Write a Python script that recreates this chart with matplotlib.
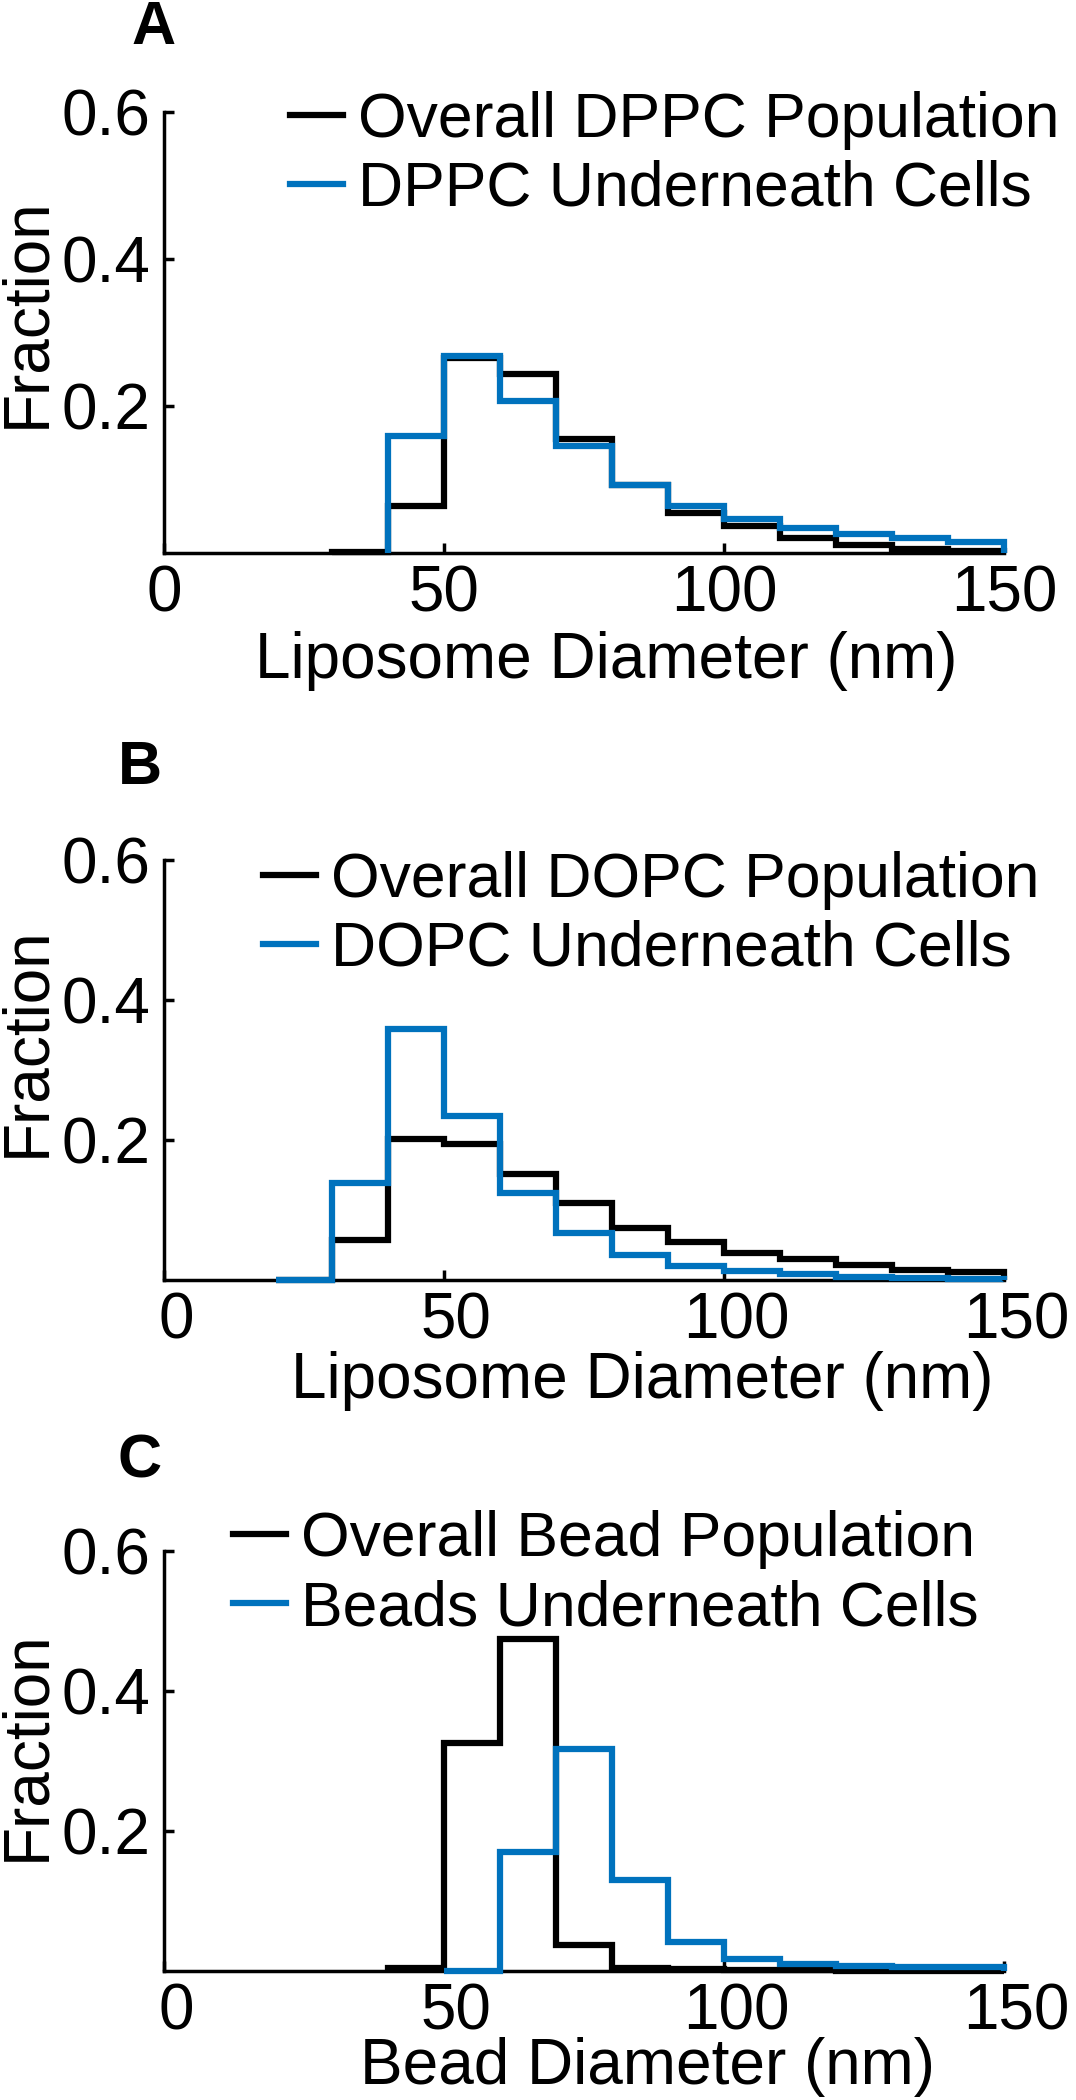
import numpy as np
import matplotlib
matplotlib.use("Agg")
import matplotlib.pyplot as plt
from matplotlib.transforms import ScaledTranslation

plt.rcParams['font.family'] = ['Liberation Sans', 'DejaVu Sans']

# bin edges (nm) and fractions
edges_a_all = np.arange(30, 151, 10)
frac_a_all = [0.001, 0.064, 0.265, 0.244, 0.155, 0.093, 0.055, 0.037, 0.021, 0.011, 0.006, 0.003]
edges_a_cell = np.arange(40, 151, 10)
frac_a_cell = [0.159, 0.268, 0.207, 0.146, 0.093, 0.064, 0.046, 0.034, 0.026, 0.020, 0.015]

edges_b = np.arange(20, 151, 10)
frac_b_all = [0.0, 0.057, 0.201, 0.194, 0.152, 0.110, 0.075, 0.055, 0.038, 0.030, 0.022, 0.015, 0.011]
frac_b_cell = [0.0, 0.138, 0.359, 0.234, 0.124, 0.067, 0.036, 0.020, 0.013, 0.008, 0.005, 0.003, 0.002]

edges_c_all = np.arange(40, 151, 10)
frac_c_all = [0.004, 0.326, 0.475, 0.037, 0.005, 0.003, 0.002, 0.001, 0.0, 0.0, 0.0]
edges_c_cell = np.arange(50, 151, 10)
frac_c_cell = [0.0, 0.170, 0.317, 0.130, 0.042, 0.017, 0.010, 0.007, 0.006, 0.006]

legend_all = ["Overall DPPC Population", "Overall DOPC Population", "Overall Bead Population"]
legend_cell = ["DPPC Underneath Cells", "DOPC Underneath Cells", "Beads Underneath Cells"]
xlabels = ["Liposome Diameter (nm)", "Liposome Diameter (nm)", "Bead Diameter (nm)"]
panel_labels = ["A", "B", "C"]

W, H = 1076, 2100
fig = plt.figure(figsize=(W / 100, H / 100), dpi=100)

blue = '#0072BD'
fs = 46
leg_fs = 45

# pixel boxes: left, right, top, bottom
boxes = [(164, 1004, 112, 553), (164, 1004, 860, 1280), (164, 1004, 1551, 1971)]
leg_pos = [(290, 117), (263, 877), (233, 1536)]
xlab_pos = [(0.526, -0.176), (0.569, -0.168), (0.576, -0.158)]
ylab_pos = [0.544, 0.567, 0.536]
plab_pos = [(131, 0), (118, 740), (118, 1433)]
xtick_shift = [0, 12, 12]

data = [
    (edges_a_all, frac_a_all, edges_a_cell, frac_a_cell),
    (edges_b, frac_b_all, edges_b, frac_b_cell),
    (edges_c_all, frac_c_all, edges_c_cell, frac_c_cell),
]

for i, (e1, f1, e2, f2) in enumerate(data):
    l, r, t, b = boxes[i]
    ax = fig.add_axes([l / W, 1 - b / H, (r - l) / W, (b - t) / H])
    h1 = ax.stairs(f1, e1, baseline=0, color='black', linewidth=4.5,
                   label=legend_all[i], clip_on=False, zorder=3)
    h2 = ax.stairs(f2, e2, baseline=0, color=blue, linewidth=4.5,
                   label=legend_cell[i], clip_on=False, zorder=4)
    ax.set_xlim(0, 150)
    ax.set_ylim(0, 0.6)
    ax.set_xticks([0, 50, 100, 150])
    ax.set_yticks([0.2, 0.4, 0.6])
    ax.set_yticklabels(['0.2', '0.4', '0.6'])
    for s in ['top', 'right']:
        ax.spines[s].set_visible(False)
    for s in ['left', 'bottom']:
        ax.spines[s].set_linewidth(2.5)
    ax.tick_params(direction='in', length=7, width=2.5, labelsize=fs)
    ax.tick_params(axis='y', pad=10)
    ax.tick_params(axis='x', pad=8)
    if xtick_shift[i]:
        off = ScaledTranslation(xtick_shift[i] / 100, 0, fig.dpi_scale_trans)
        for lab in ax.get_xticklabels():
            lab.set_transform(lab.get_transform() + off)
    ax.set_xlabel(xlabels[i], fontsize=fs)
    ax.xaxis.set_label_coords(*xlab_pos[i])
    ax.set_ylabel("Fraction", fontsize=fs)
    ax.yaxis.set_label_coords(-0.127, ylab_pos[i])

    lx, ly = leg_pos[i]
    ax.legend(handles=[h1, h2], loc='upper left', frameon=False,
              bbox_to_anchor=(lx / W, 1 - (ly - 26) / H), bbox_transform=fig.transFigure,
              fontsize=leg_fs, handlelength=0.84, handletextpad=0.25,
              labelspacing=0.16, borderpad=0, borderaxespad=0)

    px, py = plab_pos[i]
    fig.text(px / W, 1 - py / H, panel_labels[i], fontsize=44, fontweight='bold',
             ha='left', va='top')

fig.savefig("out.png", dpi=100)
